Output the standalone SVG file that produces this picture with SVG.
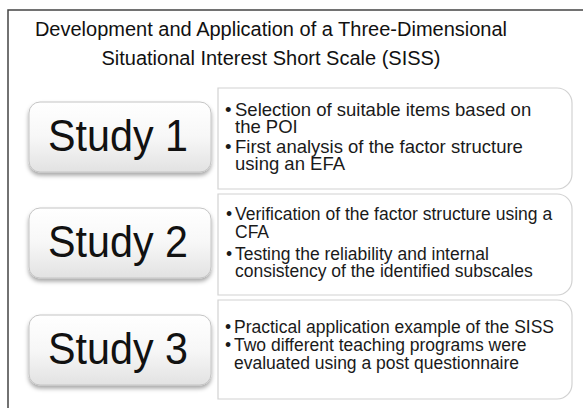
<svg xmlns="http://www.w3.org/2000/svg" width="583" height="408" viewBox="0 0 583 408">
<style>
.title{font-family:"Liberation Sans",Arial,sans-serif;font-size:20px;fill:#111;text-anchor:middle}
.study{font-family:"Liberation Sans",Arial,sans-serif;font-size:45px;fill:#111;text-anchor:middle}
.btn{fill:url(#btnGrad);stroke:#c4c4c4;stroke-width:1;filter:url(#shadow)}
.box{fill:#fff;stroke:#d2d2d2;stroke-width:1.2}
.b1{font-family:"Liberation Sans",Arial,sans-serif;font-size:18.5px;fill:#1a1a1a}
.b2{font-family:"Liberation Sans",Arial,sans-serif;font-size:17.5px;fill:#1a1a1a}
</style>
<defs>
<linearGradient id="btnGrad" x1="0" y1="0" x2="0" y2="1">
<stop offset="0" stop-color="#ffffff"/>
<stop offset="0.5" stop-color="#f7f7f7"/>
<stop offset="1" stop-color="#e2e2e2"/>
</linearGradient>
<filter id="shadow" x="-10%" y="-20%" width="120%" height="150%">
<feDropShadow dx="0" dy="3" stdDeviation="2" flood-color="#000" flood-opacity="0.35"/>
</filter>
</defs>
<rect width="583" height="408" fill="#fff"/>
<rect x="8" y="10" width="620" height="440" fill="none" stroke="#444" stroke-width="1.5"/>
<g id="title">
<text class="title" x="271" y="36">Development and Application of a Three-Dimensional</text>
<text class="title" x="271" y="65">Situational Interest Short Scale (SISS)</text>
</g>
<g id="study1">
<rect class="btn" x="29" y="102" width="182" height="70" rx="11"/>
<text class="study" x="118" y="151" textLength="140" lengthAdjust="spacingAndGlyphs">Study 1</text>
</g>
<g id="box1">
<path class="box" d="M218,88 H557 A15,15 0 0 1 572,103 V174 A15,15 0 0 1 557,189 H218 Z"/>
<text class="b1"><tspan x="225" y="116">•</tspan><tspan x="235" y="116">Selection of suitable items based on</tspan><tspan x="235" y="133">the POI</tspan><tspan x="225" y="153">•</tspan><tspan x="235" y="153">First analysis of the factor structure</tspan><tspan x="235" y="170">using an EFA</tspan></text>
</g>
<g id="study2">
<rect class="btn" x="29" y="208" width="182" height="70" rx="11"/>
<text class="study" x="118" y="257" textLength="140" lengthAdjust="spacingAndGlyphs">Study 2</text>
</g>
<g id="box2">
<path class="box" d="M218,194 H557 A15,15 0 0 1 572,209 V280 A15,15 0 0 1 557,295 H218 Z"/>
<text class="b2"><tspan x="226" y="220">•</tspan><tspan x="235" y="220">Verification of the factor structure using a</tspan><tspan x="235" y="238">CFA</tspan><tspan x="226" y="260">•</tspan><tspan x="235" y="260">Testing the reliability and internal</tspan><tspan x="235" y="277">consistency of the identified subscales</tspan></text>
</g>
<g id="study3">
<rect class="btn" x="29" y="315" width="182" height="70" rx="11"/>
<text class="study" x="118" y="364" textLength="140" lengthAdjust="spacingAndGlyphs">Study 3</text>
</g>
<g id="box3">
<path class="box" d="M218,300 H557 A15,15 0 0 1 572,315 V384 A15,15 0 0 1 557,399 H218 Z"/>
<text class="b2"><tspan x="225" y="333">•</tspan><tspan x="234" y="333">Practical application example of the SISS</tspan><tspan x="225" y="351">•</tspan><tspan x="234" y="351">Two different teaching programs were</tspan><tspan x="234" y="369">evaluated using a post questionnaire</tspan></text>
</g>
<g id="connectors"></g>
</svg>
